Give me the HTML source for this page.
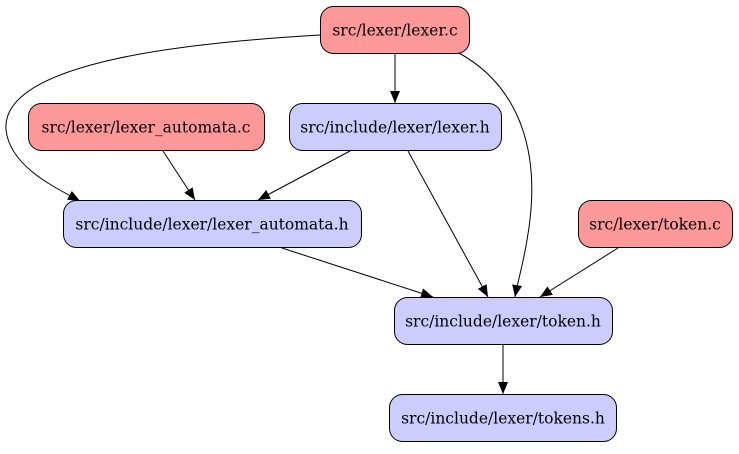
<!DOCTYPE html>
<html><head><meta charset="utf-8"><style>
html,body{margin:0;padding:0;background:#fff;}
svg text{font-family:"DejaVu Serif","Liberation Serif",serif;font-size:15.5px;}
</style></head><body>
<svg width="739" height="449" viewBox="0 0 739 449" xmlns="http://www.w3.org/2000/svg">
<defs>
<marker id="a" markerWidth="12" markerHeight="10" refX="12" refY="5" orient="auto" markerUnits="userSpaceOnUse">
<path d="M0,0 L12,5 L0,10 Z" fill="#000"/>
</marker>
</defs>
<g fill="none" stroke="#000" stroke-width="1">
<path d="M395,54 L395,103" marker-end="url(#a)"/>
<path d="M320,35 C200,42 0,60 6,130 C10,165 50,185 80,201" marker-end="url(#a)"/>
<path d="M457,52 C510,80 545,140 527,240 C523,265 518,280 515,297" marker-end="url(#a)"/>
<path d="M163,151 L195,200" marker-end="url(#a)"/>
<path d="M350,151 L258,200" marker-end="url(#a)"/>
<path d="M408,151 L488,297" marker-end="url(#a)"/>
<path d="M282,248 L433,297" marker-end="url(#a)"/>
<path d="M618,248 L540,297" marker-end="url(#a)"/>
<path d="M503,345 L503,394" marker-end="url(#a)"/>
</g>
<g stroke="#000" stroke-width="1">
<rect x="320.5" y="6.5" width="149" height="47" rx="13" fill="#ff9999"/>
<rect x="28.5" y="103.5" width="236" height="47" rx="13" fill="#ff9999"/>
<rect x="289.5" y="103.5" width="212" height="47" rx="13" fill="#ccccff"/>
<rect x="63.5" y="200.5" width="298" height="47" rx="13" fill="#ccccff"/>
<rect x="578.5" y="200.5" width="154" height="47" rx="13" fill="#ff9999"/>
<rect x="394.5" y="297.5" width="218" height="47" rx="13" fill="#ccccff"/>
<rect x="389.5" y="394.5" width="227" height="47" rx="13" fill="#ccccff"/>
</g>
<g text-anchor="middle" fill="#000">
<text x="395" y="35.5">src/lexer/lexer.c</text>
<text x="146" y="132.5">src/lexer/lexer_automata.c</text>
<text x="395" y="132.5">src/include/lexer/lexer.h</text>
<text x="212" y="229.5">src/include/lexer/lexer_automata.h</text>
<text x="655" y="229.5">src/lexer/token.c</text>
<text x="503" y="326.5">src/include/lexer/token.h</text>
<text x="503" y="423.5">src/include/lexer/tokens.h</text>
</g>
</svg>
</body></html>
